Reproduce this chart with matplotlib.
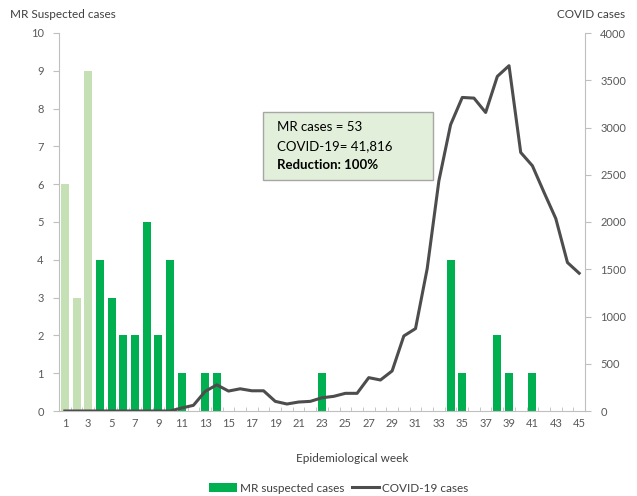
import matplotlib
matplotlib.use("Agg")
import matplotlib.pyplot as plt
from matplotlib.patches import Patch, Rectangle
from matplotlib.lines import Line2D

plt.rcParams['font.family'] = ['Lato', 'DejaVu Sans']

weeks = list(range(1, 46))
mr_cases = [6, 3, 9, 4, 3, 2, 2, 5, 2, 4, 1, 0, 1, 1, 0, 0, 0, 0, 0, 0, 0, 0, 1, 0,
            0, 0, 0, 0, 0, 0, 0, 0, 0, 4, 1, 0, 0, 2, 1, 0, 1, 0, 0, 0, 0]
covid_cases = [0, 0, 0, 0, 0, 0, 0, 0, 0, 0, 32, 60, 207, 277, 211, 235, 214, 214,
               102, 74, 95, 102, 140, 155, 187, 187, 353, 328, 424, 794, 872, 1507,
               2436, 3029, 3318, 3311, 3159, 3541, 3654, 2736, 2595, 2312, 2037,
               1571, 1458]
light_weeks = [1, 2, 3]
xtick_labels = [str(w) for w in range(1, 46, 2)]
box_lines = ["MR cases = 53", "COVID-19= 41,816", "Reduction: 100%"]

DARK_GREEN = "#00b050"
LIGHT_GREEN = "#c5e0b4"
LINE_GRAY = "#4d4d4d"
AXIS_GRAY = "#bfbfbf"
TEXT_GRAY = "#595959"

fig = plt.figure(figsize=(6.37, 4.96), dpi=100)
ax = fig.add_axes([59/637, 1-411/496, (585-59)/637, (411-33)/496])
colors = [LIGHT_GREEN if w in light_weeks else DARK_GREEN for w in weeks]
ax.bar(weeks, mr_cases, width=0.68, color=colors, zorder=2)
ax.set_xlim(0.5, 45.5)
ax.set_ylim(0, 10)
ax.set_yticks(range(0, 11))
ax.set_xticks(range(1, 46, 2))
ax.set_xticklabels(xtick_labels)
ax.set_xticks([w + 0.5 for w in range(0, 46)], minor=True)
ax.tick_params(axis='x', which='major', length=0, labelsize=8, colors=TEXT_GRAY, pad=5)
ax.tick_params(axis='x', which='minor', direction='in', length=3, color=AXIS_GRAY)
ax.tick_params(axis='y', length=4, color=AXIS_GRAY, labelsize=8, labelcolor=TEXT_GRAY, pad=7)
for s in ['top', 'right']:
    ax.spines[s].set_visible(False)
for s in ['left', 'bottom']:
    ax.spines[s].set_color(AXIS_GRAY)

ax2 = ax.twinx()
ax2.plot(weeks, covid_cases, color=LINE_GRAY, lw=2.2, zorder=3)
ax2.set_ylim(0, 4000)
ax2.set_yticks(range(0, 4001, 500))
ax2.tick_params(axis='y', length=4, color=AXIS_GRAY, labelsize=8, labelcolor=TEXT_GRAY, pad=7)
for s in ['top', 'left', 'bottom']:
    ax2.spines[s].set_visible(False)
ax2.spines['right'].set_color(AXIS_GRAY)

fig.text(10/637, 1-14/496, "MR Suspected cases", ha='left', va='center', fontsize=8.5, color="#404040")
fig.text(625/637, 1-14/496, "COVID cases", ha='right', va='center', fontsize=8.5, color="#404040")
fig.text(352/637, 1-458/496, "Epidemiological week", ha='center', va='center', fontsize=8.5, color="#404040")

fig.patches.append(Rectangle((263/637, 1-180/496), (433-263)/637, (180-112)/496,
                             transform=fig.transFigure, facecolor="#e2efda",
                             edgecolor="#a6a6a6", lw=1, zorder=5))
ys = [127, 146, 165]
for i, (t, y) in enumerate(zip(box_lines, ys)):
    fig.text(277/637, 1-y/496, t, ha='left', va='center', fontsize=9.5,
             color="black", fontweight='bold' if i == 2 else 'normal', zorder=6)

handles = [Patch(facecolor=DARK_GREEN, edgecolor='none'),
           Line2D([0], [0], color=LINE_GRAY, lw=2.2)]
fig.legend(handles, ["MR suspected cases", "COVID-19 cases"], loc='center',
           bbox_to_anchor=(339/637, 1-488/496), ncol=2, frameon=False, fontsize=8.5,
           handlelength=2.3, handletextpad=0.3, columnspacing=0.6, labelcolor="#404040")

fig.savefig("out.png", dpi=100)
